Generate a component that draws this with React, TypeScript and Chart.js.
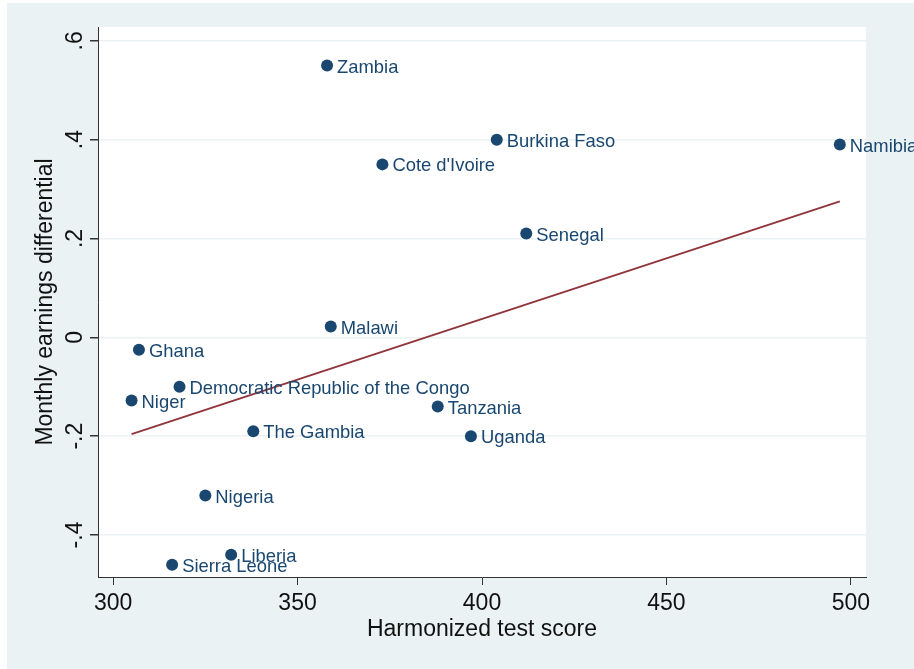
import React, { useEffect, useRef } from "react";
import { Chart, registerables } from "chart.js";

Chart.register(...registerables);

const COUNTRIES = [
  "Zambia", "Burkina Faso", "Namibia", "Cote d'Ivoire", "Senegal", "Malawi", "Ghana",
  "Democratic Republic of the Congo", "Niger", "Tanzania", "The Gambia", "Uganda",
  "Nigeria", "Liberia", "Sierra Leone",
];
const TEST_SCORE = [358, 404, 497, 373, 412, 359, 307, 318, 305, 388, 338, 397, 325, 332, 316];
const EARNINGS_DIFF = [0.55, 0.4, 0.39, 0.35, 0.21, 0.022, -0.025, -0.1, -0.128, -0.14, -0.19, -0.2, -0.32, -0.44, -0.46];
const FIT_X = [305, 497];
const FIT_Y = [-0.196, 0.275];
const X_TICKS = [300, 350, 400, 450, 500];
const Y_TICKS = [-0.4, -0.2, 0, 0.2, 0.4, 0.6];
const Y_TICK_LABELS = ["-.4", "-.2", "0", ".2", ".4", ".6"];
const X_TITLE = "Harmonized test score";
const Y_TITLE = "Monthly earnings differential";

const NAVY = "#1a476f";
const MAROON = "#90353b";
const BG = "#eaf2f3";
const FONT = "'Liberation Sans', Arial, sans-serif";

export default function App() {
  const ref = useRef<HTMLCanvasElement | null>(null);

  useEffect(() => {
    document.body.style.margin = "0";
    const canvas = ref.current;
    if (!canvas) return;

    const decor = {
      id: "decor",
      beforeDraw(chart: any) {
        const { ctx, chartArea: a } = chart;
        ctx.save();
        ctx.fillStyle = "#ffffff";
        ctx.fillRect(0, 0, chart.width, chart.height);
        ctx.fillStyle = BG;
        ctx.fillRect(7, 3, chart.width - 7, chart.height - 3);
        ctx.fillStyle = "#ffffff";
        ctx.fillRect(a.left, a.top, a.right - a.left, a.bottom - a.top);
        ctx.restore();
      },
      afterDraw(chart: any) {
        const { ctx, chartArea: a } = chart;
        const xs = chart.scales.x;
        const ys = chart.scales.y;
        ctx.save();
        ctx.fillStyle = "#111";
        ctx.font = `23px ${FONT}`;
        ctx.textAlign = "center";
        ctx.textBaseline = "middle";
        X_TICKS.forEach((v) => {
          ctx.fillText(String(v), xs.getPixelForValue(v), 604);
        });
        Y_TICKS.forEach((v, i) => {
          ctx.save();
          ctx.translate(76, ys.getPixelForValue(v));
          ctx.rotate(-Math.PI / 2);
          ctx.fillText(Y_TICK_LABELS[i], 0, 0);
          ctx.restore();
        });
        ctx.fillText(X_TITLE, (a.left + a.right) / 2, 630);
        ctx.save();
        ctx.translate(46, (a.top + a.bottom) / 2);
        ctx.rotate(-Math.PI / 2);
        ctx.fillText(Y_TITLE, 0, 0);
        ctx.restore();

        ctx.fillStyle = NAVY;
        ctx.font = `18.4px ${FONT}`;
        ctx.textAlign = "left";
        COUNTRIES.forEach((name, i) => {
          const px = xs.getPixelForValue(TEST_SCORE[i]);
          const py = ys.getPixelForValue(EARNINGS_DIFF[i]);
          ctx.fillText(name, px + 10, py + 2);
        });
        ctx.restore();
      },
    };

    const chart = new Chart(canvas, {
      type: "scatter",
      data: {
        datasets: [
          {
            label: "fit",
            data: FIT_X.map((x, i) => ({ x, y: FIT_Y[i] })),
            showLine: true,
            borderColor: MAROON,
            borderWidth: 1.9,
            pointRadius: 0,
            order: 2,
          },
          {
            label: "countries",
            data: TEST_SCORE.map((x, i) => ({ x, y: EARNINGS_DIFF[i] })),
            backgroundColor: NAVY,
            borderColor: NAVY,
            borderWidth: 0,
            pointRadius: 6,
            order: 1,
          },
        ],
      },
      options: {
        responsive: false,
        animation: false,
        layout: { padding: { left: 0, top: 27, right: 48, bottom: 0 } },
        plugins: { legend: { display: false }, tooltip: { enabled: false } },
        scales: {
          x: {
            type: "linear",
            min: 295.9,
            max: 504.1,
            afterBuildTicks: (s: any) => {
              s.ticks = X_TICKS.map((v) => ({ value: v }));
            },
            afterFit: (s: any) => {
              s.height = 92;
            },
            ticks: { display: false },
            grid: { drawOnChartArea: false, drawTicks: true, tickLength: 8, tickColor: "#333" },
            border: { display: true, color: "#333", width: 1 },
          },
          y: {
            type: "linear",
            min: -0.485,
            max: 0.628,
            afterBuildTicks: (s: any) => {
              s.ticks = Y_TICKS.map((v) => ({ value: v }));
            },
            afterFit: (s: any) => {
              s.width = 98;
            },
            ticks: { display: false },
            grid: { color: BG, lineWidth: 1.5, drawTicks: true, tickLength: 8, tickColor: "#333" },
            border: { display: true, color: "#333", width: 1 },
          },
        },
      },
      plugins: [decor],
    });
    return () => chart.destroy();
  }, []);

  return (
    <div style={{ width: 914, height: 669 }}>
      <canvas ref={ref} width={914} height={669} style={{ display: "block" }} />
    </div>
  );
}
